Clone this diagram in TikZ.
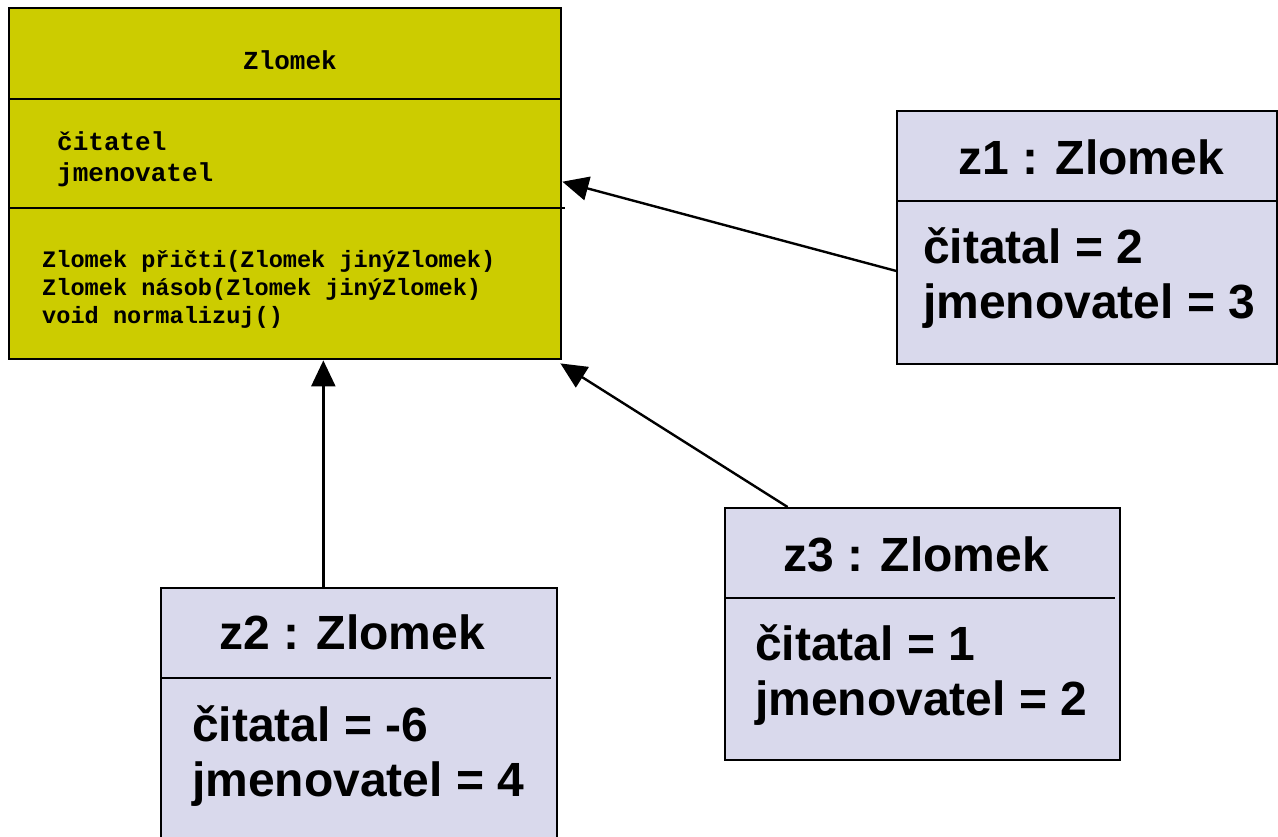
\documentclass[tikz,border=0pt]{standalone}
\usepackage{fontspec}
\usetikzlibrary{arrows.meta,calc}
\newfontfamily\codefont{Liberation Mono}
\newfontfamily\objfont{Liberation Sans}
\definecolor{classfill}{RGB}{204,204,0}
\definecolor{objfill}{RGB}{217,217,236}
\tikzset{
  boxline/.style={draw=black,line width=2.4pt},
  classbox/.style={boxline,fill=classfill,rectangle,inner sep=0pt,anchor=north west},
  objbox/.style={boxline,fill=objfill,rectangle,inner sep=0pt,anchor=north west},
  divider/.style={line width=2.2pt},
  txt/.style={inner sep=0pt,anchor=base west},
  ctitle/.style={inner sep=0pt,anchor=base,font=\codefont\bfseries\fontsize{26}{31}\selectfont},
  cattr/.style={txt,font=\codefont\bfseries\fontsize{26}{31}\selectfont},
  cmeth/.style={txt,font=\codefont\bfseries\fontsize{23.6}{29.5}\selectfont},
  otitle/.style={inner sep=0pt,anchor=base,font=\objfont\bfseries\fontsize{48}{55}\selectfont},
  oattr/.style={txt,font=\objfont\bfseries\fontsize{48}{55}\selectfont},
  link/.style={line width=2.4pt,-{Triangle[length=26pt,width=24pt]}}
}
\begin{document}
\begin{tikzpicture}[x=1pt,y=-1pt]
\useasboundingbox (0,0) rectangle (1278,836);
\path[clip] (0,0) rectangle (1278,836);

% class Zlomek
\node[classbox,minimum width=552pt,minimum height=351pt] (cls) at (8,7) {};
\draw[divider] (cls.west |- 0,99) -- (cls.east |- 0,99);
\draw[divider] (cls.west |- 0,208) -- ([xshift=3pt]cls.east |- 0,208);
\node[ctitle] (clsname) at (290,69) {Zlomek};
\node[cattr] (attr1) at (57,150) {čitatel};
\node[cattr] (attr2) at (57,181) {jmenovatel};
\node[cmeth] (meth1) at (42,267) {Zlomek přičti(Zlomek jinýZlomek)};
\node[cmeth] (meth2) at (42,295) {Zlomek násob(Zlomek jinýZlomek)};
\node[cmeth] (meth3) at (42,323) {void normalizuj()};

% object z1
\node[objbox,minimum width=380pt,minimum height=253pt] (z1) at (896,110) {};
\draw[divider] (z1.west |- 0,201) -- (z1.east |- 0,201);
\node[otitle] (z1name) at (1091,174) {z1 : Zlomek};
\node[oattr] (z1a) at (923,263) {čitatal = 2};
\node[oattr] (z1b) at (923,318) {jmenovatel = 3};

% object z2
\node[objbox,minimum width=396pt,minimum height=280pt] (z2) at (160,587) {};
\draw[divider] (z2.west |- 0,678) -- ([xshift=-7pt]z2.east |- 0,678);
\node[otitle] (z2name) at (352,649) {z2 : Zlomek};
\node[oattr] (z2a) at (192,741) {čitatal = -6};
\node[oattr] (z2b) at (192,796) {jmenovatel = 4};

% object z3
\node[objbox,minimum width=395pt,minimum height=252pt] (z3) at (724,507) {};
\draw[divider] (z3.west |- 0,598) -- ([xshift=-6pt]z3.east |- 0,598);
\node[otitle] (z3name) at (916,571) {z3 : Zlomek};
\node[oattr] (z3a) at (755,660) {čitatal = 1};
\node[oattr] (z3b) at (755,715) {jmenovatel = 2};

% instance-of links
\coordinate (z1out) at ($(z1.north west)!0.63!(z1.south west)$);
\coordinate (z2out) at ($(z2.north west)!0.41!(z2.north east)$);
\coordinate (z3out) at ($(z3.north west)!0.16!(z3.north east)$);
\draw[link] (z1out) -- ([yshift=2pt]cls.east);
\draw[link] (z2out) -- (z2out |- cls.south);
\draw[link] (z3out) -- ([xshift=-2pt,yshift=-3pt]cls.south east);
\end{tikzpicture}
\end{document}
